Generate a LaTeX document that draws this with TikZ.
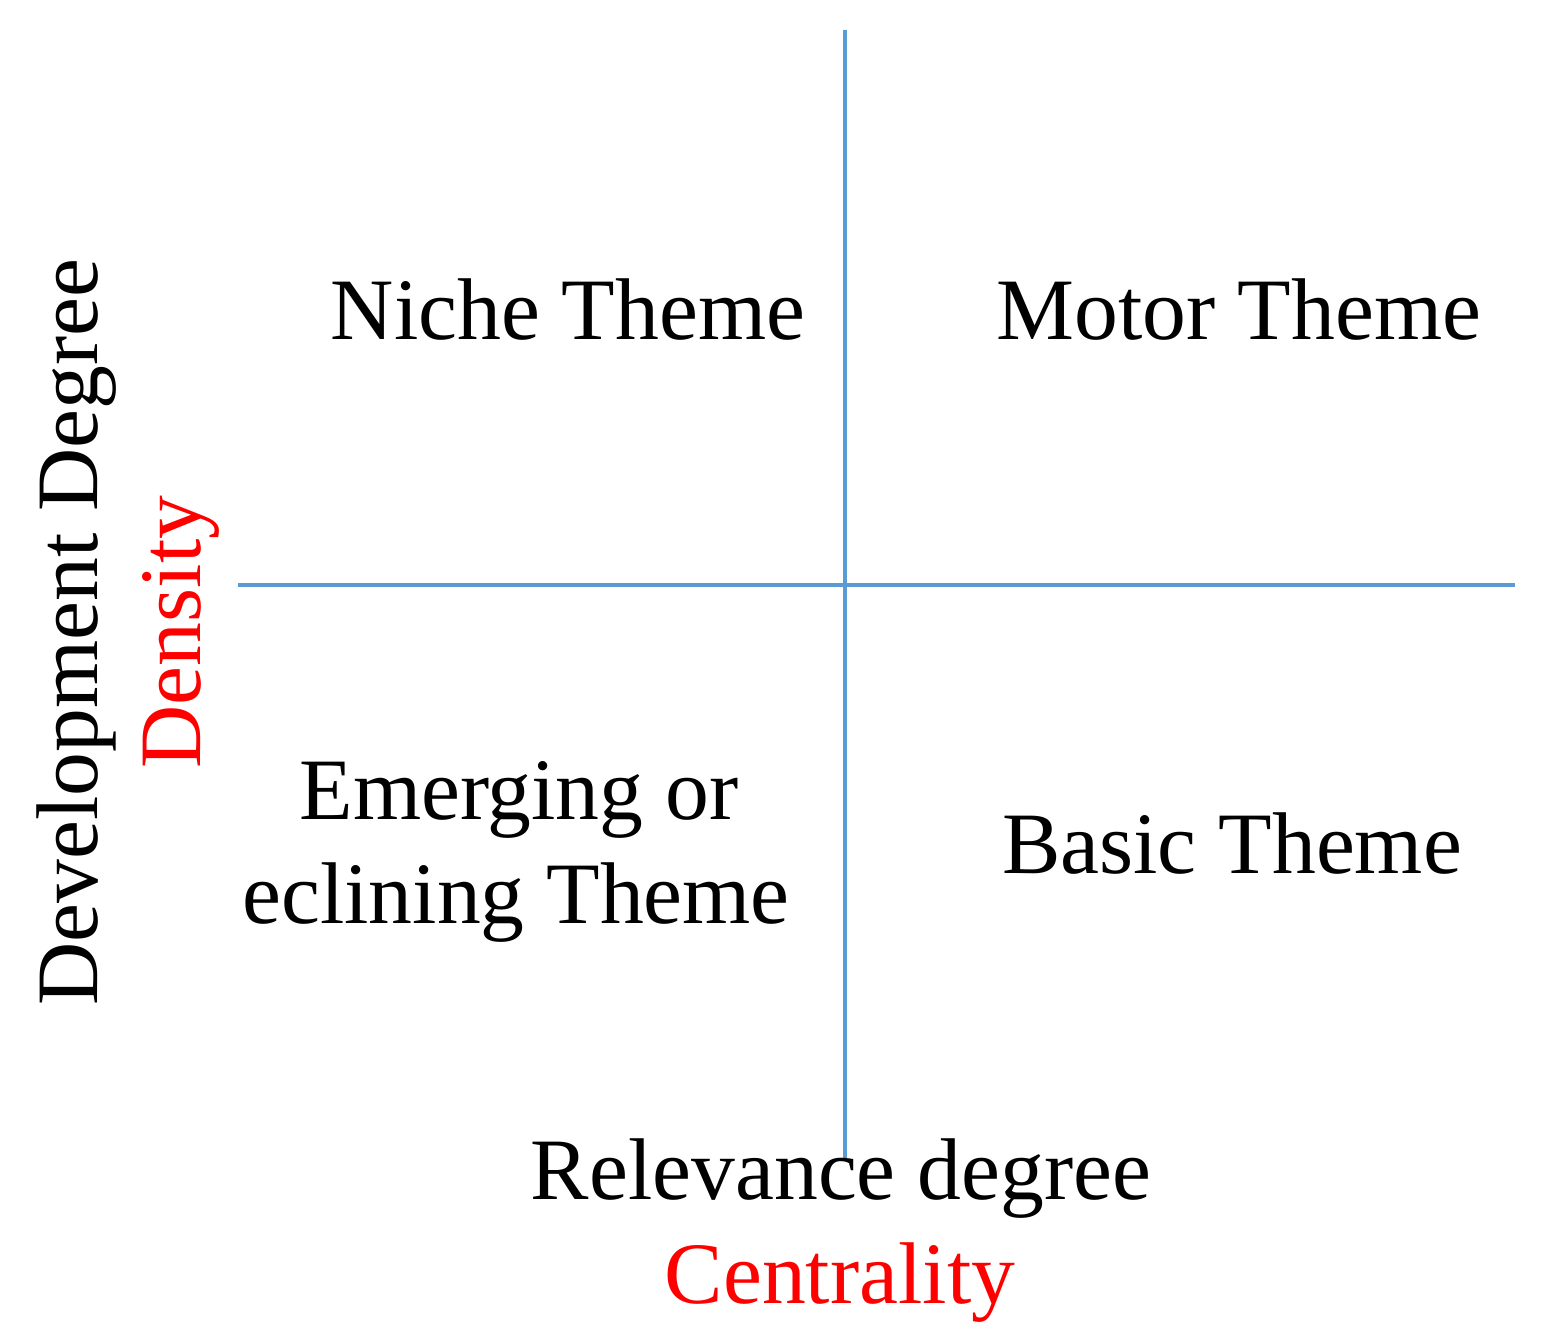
\documentclass[tikz,border=0pt]{standalone}
\usepackage{fontspec}
\setmainfont{Liberation Serif}
\definecolor{axisblue}{HTML}{5B9BD5}
\definecolor{labred}{HTML}{FF0000}
\tikzset{
  axisline/.style={draw=axisblue, line width=2.2pt},
  lab/.style={inner sep=0pt, anchor=base, font=\fontsize{43.8}{52}\selectfont, text=black},
  redlab/.style={lab, text=labred},
}
\begin{document}
\begin{tikzpicture}[x=0.5pt,y=-0.5pt]
\useasboundingbox (0,0) rectangle (1559,1332);
\coordinate (vtop) at (845,30);
\coordinate (vbot) at (845,1158);
\coordinate (hleft) at (238,585);
\coordinate (hright) at (1515,585);
\draw[axisline] (vtop) -- (vbot);
\draw[axisline] (hleft) -- (hright);
\node[lab] (niche) at (568,340) {Niche Theme};
\node[lab] (motor) at (1239,340) {Motor Theme};
\node[lab] (emerg1) at (519,819) {Emerging or};
\node[lab] (emerg2) at (516,923) {eclining Theme};
\node[lab] (basic) at (1232,873) {Basic Theme};
\node[lab] (relev) at (841,1199) {Relevance degree};
\node[redlab] (central) at (840,1303) {Centrality};
\node[lab, rotate=90] (devel) at (97,632) {Development Degree};
\node[redlab, rotate=90] (dens) at (200,632) {Density};
\end{tikzpicture}
\end{document}
